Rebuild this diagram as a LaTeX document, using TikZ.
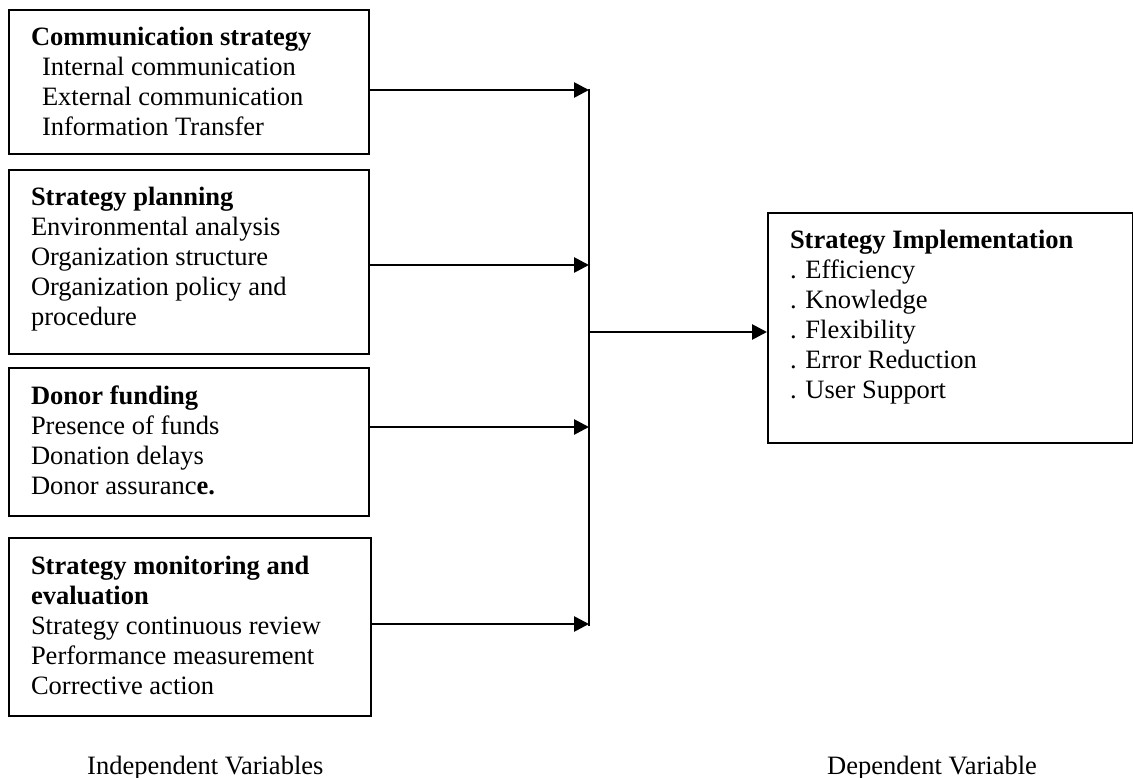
\documentclass[tikz,border=0pt]{standalone}
\usepackage{fontspec}
\setmainfont{Liberation Serif}
\usetikzlibrary{arrows.meta}

\newcommand{\varpanel}[3]{\parbox[t][#1pt][t]{#2pt}{\strut #3}}

\begin{document}
\begin{tikzpicture}[
  x=1pt, y=-1pt,
  font=\fontsize{26.5}{30}\selectfont,
  varbox/.style={draw, line width=2pt, anchor=north west, inner xsep=22pt, inner ysep=15pt},
  feed/.style={line width=2.7pt, -{Triangle[length=15pt,width=15pt]}},
  bus/.style={line width=2.7pt},
  caption/.style={anchor=base west, inner sep=0pt}]
\useasboundingbox (0,0) rectangle (1133,778);

\node[varbox] (comm) at (8,9) {\varpanel{114}{316}{\textbf{Communication strategy}\\
  \hspace*{11pt}Internal communication\\
  \hspace*{11pt}External communication\\
  \hspace*{11pt}Information Transfer}};
\node[varbox] (plan) at (8,169) {\varpanel{154}{316}{\textbf{Strategy planning}\\
  Environmental analysis\\
  Organization structure\\
  Organization policy and\\
  procedure}};
\node[varbox] (fund) at (8,367) {\varpanel{118}{316}{\textbf{Donor funding}\\
  Presence of funds\\
  Donation delays\\
  Donor assuranc\textbf{e.}}};
\node[varbox] (eval) at (8,537) {\varpanel{148}{318}{\textbf{Strategy monitoring and}\\
  \textbf{evaluation}\\
  Strategy continuous review\\
  Performance measurement\\
  Corrective action}};
\node[varbox] (impl) at (767,212) {\varpanel{200}{321}{\textbf{Strategy Implementation}\\
  . Efficiency\\
  . Knowledge\\
  . Flexibility\\
  . Error Reduction\\
  . User Support}};

\coordinate (f1) at (589,90);
\coordinate (f2) at (589,265);
\coordinate (f3) at (589,427);
\coordinate (f4) at (589,624);
\coordinate (join) at (589,332);

\draw[feed] (comm.east |- f1) -- (f1);
\draw[feed] (plan.east |- f2) -- (f2);
\draw[feed] (fund.east |- f3) -- (f3);
\draw[feed] (eval.east |- f4) -- (f4);
\draw[bus] ([yshift=1.3pt]f1) -- ([yshift=-2pt]f4);
\draw[feed] (join) -- (join -| impl.west);

\node[caption] (indep) at (87,774) {Independent Variables};
\node[caption] (dep) at (827,774) {Dependent Variable};
\end{tikzpicture}
\end{document}
